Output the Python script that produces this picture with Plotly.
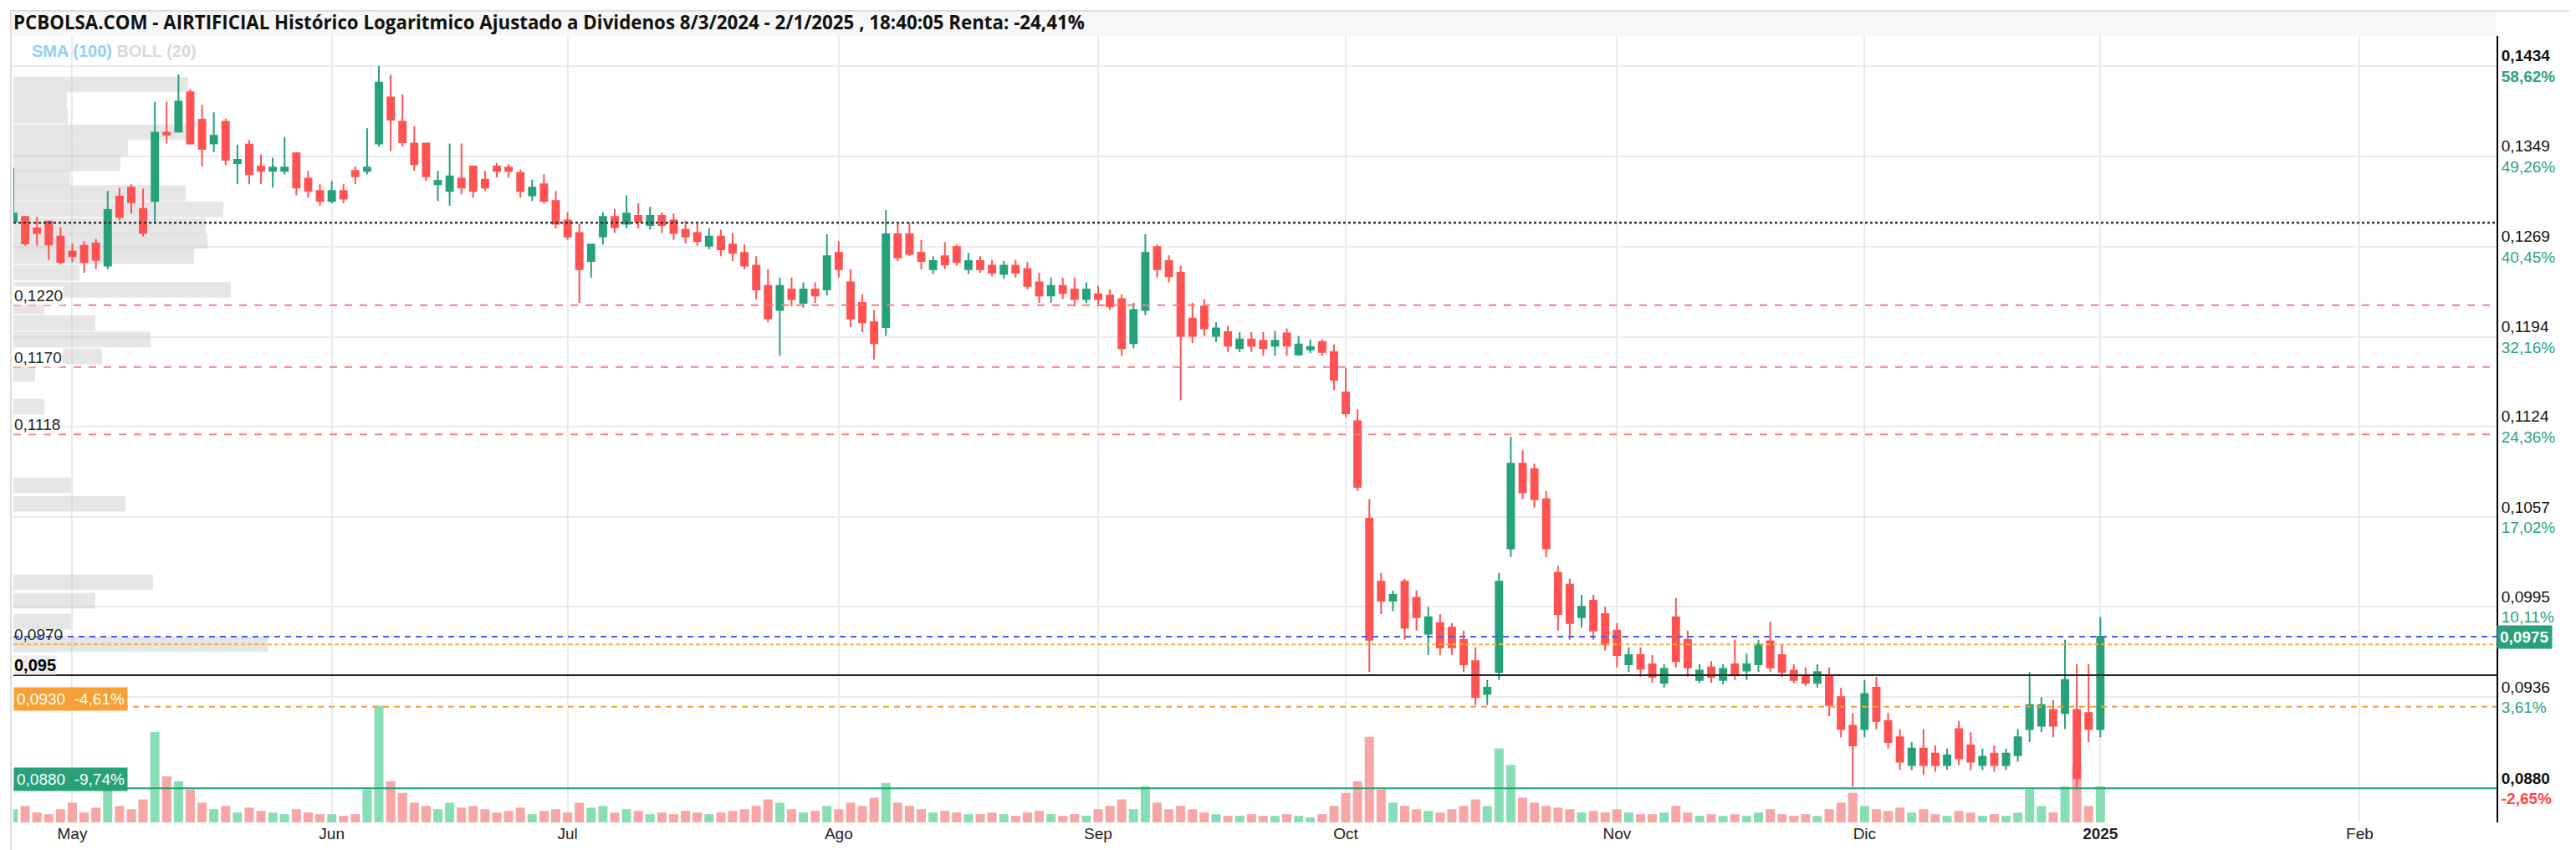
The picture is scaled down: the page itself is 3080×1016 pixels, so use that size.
import math
import plotly.graph_objects as go

# ---------------- data ----------------
# daily sessions, index 0 = 24 Apr 2024 ... index 177 = 2 Jan 2025
opens = [.1291,.1295,.1285,.1291,.1278,.1265,.1270,.1272,.1253,.1313,
         .1321,.1302,.1309,.1371,.1372,.1409,.1383,.1361,.1381,.1343,
         .1360,.1340,.1336,.1336,.1352,.1329,.1318,.1309,.1318,.1336,
         .1336,.1361,.1404,.1381,.1361,.1361,.1324,.1318,.1329,.1340,
         .1328,.1340,.1339,.1334,.1314,.1324,.1309,.1292,.1281,.1257,
         .1278,.1295,.1289,.1296,.1288,.1296,.1292,.1284,.1281,.1270,
         .1278,.1271,.1264,.1253,.1236,.1216,.1233,.1222,.1233,.1233,
         .1264,.1239,.1222,.1206,.1202,.1280,.1280,.1264,.1250,.1261,
         .1269,.1250,.1257,.1253,.1246,.1253,.1250,.1239,.1228,.1236,
         .1233,.1225,.1229,.1228,.1225,.1189,.1216,.1269,.1257,.1247,
         .1209,.1219,.1195,.1198,.1185,.1192,.1191,.1187,.1197,.1180,
         .1184,.1190,.1182,.1150,.1128,.1056,.1012,.0999,.1012,.1001,
         .0977,.0984,.0981,.0973,.0959,.0938,.0952,.1035,.1096,.1092,
         .1070,.1018,.1010,.0988,.0999,.0990,.0979,.0957,.0963,.0957,
         .0945,.0988,.0973,.0947,.0955,.0947,.0957,.0953,.0957,.0972,
         .0963,.0953,.0949,.0945,.0949,.0936,.0918,.0916,.0942,.0921,
         .0911,.0894,.0904,.0901,.0894,.0916,.0906,.0894,.0901,.0894,
         .0900,.0916,.0918,.0928,.0926,.0928,.0926,.0916]
highs = [.1339,.1296,.1295,.1292,.1286,.1272,.1274,.1276,.1318,.1321,
         .1324,.1320,.1400,.1400,.1426,.1412,.1397,.1390,.1384,.1360,
         .1364,.1351,.1348,.1367,.1353,.1336,.1324,.1327,.1324,.1340,
         .1375,.1434,.1426,.1407,.1377,.1361,.1336,.1361,.1361,.1340,
         .1336,.1343,.1342,.1337,.1328,.1333,.1318,.1299,.1289,.1271,
         .1299,.1302,.1314,.1307,.1304,.1299,.1298,.1292,.1289,.1285,
         .1284,.1281,.1271,.1261,.1250,.1243,.1243,.1239,.1239,.1280,
         .1274,.1250,.1229,.1216,.1301,.1290,.1290,.1275,.1261,.1273,
         .1271,.1264,.1261,.1258,.1257,.1258,.1256,.1247,.1243,.1243,
         .1243,.1239,.1236,.1233,.1229,.1222,.1280,.1271,.1262,.1253,
         .1222,.1225,.1206,.1203,.1198,.1198,.1198,.1199,.1201,.1195,
         .1192,.1192,.1188,.1169,.1137,.1070,.1018,.1006,.1014,.1006,
         .0995,.0990,.0984,.0979,.0968,.0947,.1018,.1116,.1106,.1096,
         .1076,.1023,.1014,.1003,.1003,.0995,.0984,.0968,.0968,.0963,
         .0957,.1001,.0979,.0957,.0959,.0957,.0973,.0964,.0973,.0985,
         .0970,.0957,.0955,.0957,.0955,.0942,.0926,.0947,.0949,.0926,
         .0916,.0908,.0916,.0906,.0904,.0921,.0914,.0904,.0906,.0904,
         .0916,.0952,.0936,.0934,.0973,.0957,.0957,.0988]
lows = [.1290,.1270,.1270,.1258,.1254,.1256,.1247,.1250,.1250,.1292,
        .1298,.1278,.1290,.1361,.1371,.1360,.1340,.1353,.1341,.1324,
        .1324,.1324,.1321,.1333,.1314,.1312,.1305,.1307,.1307,.1324,
        .1333,.1358,.1354,.1358,.1336,.1327,.1309,.1305,.1315,.1312,
        .1318,.1330,.1330,.1312,.1309,.1307,.1285,.1275,.1222,.1243,
        .1271,.1281,.1285,.1285,.1284,.1281,.1275,.1272,.1270,.1267,
        .1261,.1257,.1250,.1225,.1206,.1179,.1219,.1218,.1222,.1228,
        .1243,.1202,.1198,.1176,.1195,.1257,.1261,.1250,.1246,.1250,
        .1253,.1246,.1247,.1244,.1242,.1243,.1233,.1222,.1222,.1225,
        .1219,.1222,.1219,.1216,.1179,.1185,.1212,.1243,.1239,.1144,
        .1189,.1195,.1190,.1182,.1182,.1182,.1179,.1179,.1179,.1179,
        .1181,.1179,.1152,.1131,.1076,.0952,.0990,.0992,.0973,.0979,
        .0963,.0963,.0963,.0952,.0931,.0931,.0947,.1029,.1070,.1064,
        .1029,.0979,.0973,.0981,.0973,.0966,.0955,.0952,.0949,.0945,
        .0942,.0955,.0949,.0945,.0945,.0944,.0947,.0947,.0952,.0952,
        .0949,.0945,.0943,.0942,.0924,.0911,.0881,.0911,.0916,.0904,
        .0891,.0891,.0888,.0890,.0891,.0894,.0891,.0891,.0890,.0891,
        .0896,.0908,.0914,.0911,.0916,.0880,.0908,.0911]
closes = [.1298,.1272,.1281,.1271,.1256,.1261,.1256,.1258,.1301,.1295,
          .1308,.1281,.1371,.1369,.1400,.1361,.1356,.1368,.1346,.1346,
          .1333,.1336,.1339,.1339,.1321,.1318,.1309,.1318,.1311,.1331,
          .1339,.1418,.1383,.1362,.1342,.1331,.1327,.1331,.1321,.1318,
          .1321,.1336,.1336,.1318,.1321,.1309,.1289,.1278,.1250,.1271,
          .1295,.1286,.1298,.1291,.1296,.1288,.1281,.1278,.1274,.1278,
          .1267,.1264,.1253,.1233,.1209,.1236,.1225,.1233,.1228,.1261,
          .1250,.1209,.1206,.1189,.1280,.1260,.1263,.1257,.1257,.1254,
          .1256,.1257,.1250,.1247,.1253,.1247,.1236,.1228,.1236,.1230,
          .1225,.1233,.1225,.1219,.1185,.1216,.1264,.1250,.1244,.1195,
          .1195,.1201,.1201,.1187,.1192,.1187,.1185,.1191,.1187,.1188,
          .1186,.1182,.1160,.1134,.1079,.0973,.0999,.1003,.0981,.0988,
          .0988,.0968,.0968,.0957,.0936,.0942,.1012,.1096,.1075,.1070,
          .1035,.0990,.0984,.0995,.0979,.0970,.0963,.0963,.0954,.0949,
          .0954,.0959,.0955,.0953,.0949,.0954,.0951,.0957,.0970,.0955,
          .0952,.0947,.0945,.0952,.0931,.0916,.0906,.0938,.0921,.0908,
          .0896,.0904,.0894,.0894,.0900,.0898,.0896,.0899,.0894,.0901,
          .0911,.0931,.0931,.0918,.0947,.0886,.0916,.0975]
volume_k = [8,10,6,5,8,12,6,9,30,10, 8,14,55,28,25,20,12,8,10,6,
            9,7,6,5,8,6,5,5,4,5, 20,71,25,18,12,10,8,12,9,10,
            8,6,7,9,5,7,8,6,12,9, 10,6,8,7,5,6,5,7,6,5,
            6,7,8,10,14,12,8,6,7,10, 8,12,10,15,24,12,10,8,6,7,
            6,5,5,6,5,4,6,7,5,4, 5,4,8,10,14,8,22,12,8,10,
            8,6,5,4,4,5,4,4,5,4, 3,5,10,18,25,52,20,12,10,8,
            7,6,8,10,14,10,45,35,15,12, 10,9,8,6,7,6,8,6,5,5,
            6,10,6,4,5,4,5,4,6,8, 5,4,5,4,8,12,18,10,8,7,
            9,6,8,5,4,7,6,4,5,4, 6,20,10,6,22,35,10,22]

# month tick positions (session index of first trading day) and labels
month_idx = [5, 27, 47, 70, 92, 113, 136, 157, 177, 199]
month_labels = ["May", "Jun", "Jul", "Ago", "Sep", "Oct", "Nov", "Dic", "<b>2025</b>", "Feb"]

# right axis ticks
axis_prices = [0.1434, 0.1349, 0.1269, 0.1194, 0.1124, 0.1057, 0.0995, 0.0936, 0.0880]
axis_price_text = ["0,1434", "0,1349", "0,1269", "0,1194", "0,1124", "0,1057", "0,0995", "0,0936", "0,0880"]
axis_pct_text = ["58,62%", "49,26%", "40,45%", "32,16%", "24,36%", "17,02%", "10,11%", "3,61%", "-2,65%"]

# volume-by-price profile on the left
profile_price = [0.14163, 0.14015, 0.13866, 0.13713, 0.13567, 0.13429, 0.13297, 0.13162,
                 0.13018, 0.12872, 0.12741, 0.12612, 0.12470, 0.12327, 0.12191, 0.12054,
                 0.11919, 0.11784, 0.11646, 0.11391, 0.10801, 0.10668, 0.10115, 0.09990,
                 0.09850, 0.09701]
profile_volume = [209, 64, 65, 209, 137, 128, 68, 206, 251, 230, 232, 216, 79, 260, 37, 98,
                  164, 106, 26, 37, 69, 134, 167, 98, 69, 304]

# horizontal levels
reference_level = 0.1290
red_levels = [0.1220, 0.1170, 0.1118]
red_level_text = ["0,1220", "0,1170", "0,1118"]
last_price = 0.0975
last_price_text = "0,0975"
level_0970 = 0.0970
level_0950 = 0.095
level_0930 = 0.0930
level_0880 = 0.0880

title_text = ("PCBOLSA.COM - AIRTIFICIAL Histórico Logaritmico Ajustado a Dividenos "
              "8/3/2024 - 2/1/2025 , 18:40:05 Renta: -24,41%")

# ---------------- style ----------------
GREEN = "#26a17a"
RED = "#ff5252"
VOL_GREEN = "#88deb4"
VOL_RED = "#f7a5a5"
PCT_GREEN = "#2ea27a"
PCT_RED = "#ff4444"
GRID = "#ebebeb"
FONT = "Liberation Sans"

W, H = 3080, 1016
ML, MR, MT, MB = 8, 103, 35, 41
PW, PH = W - ML - MR, H - MT - MB
YLO, YHI = -1.0655, -0.8346          # log10 price range
X_RANGE = [0, 210.6]
VOL_TOP = 478.6
PROFILE_RANGE = [0, PW]

idx = list(range(len(opens)))
vol_colors = [VOL_GREEN if c >= o else VOL_RED for o, c in zip(opens, closes)]

fig = go.Figure()

# volume profile (main subplot => drawn first / underneath)
fig.add_trace(go.Bar(
    x=profile_volume, y=[math.log10(p) for p in profile_price], orientation="h",
    width=0.0046, marker=dict(color="rgba(190,190,190,0.38)", line=dict(width=0)),
    xaxis="x", yaxis="y", hoverinfo="skip"))

# volume bars
fig.add_trace(go.Bar(
    x=idx, y=volume_k, width=0.78, marker=dict(color=vol_colors, line=dict(width=0)),
    xaxis="x2", yaxis="y2", hoverinfo="skip"))

# level lines (price subplot)
def level(p, color, dash, width=2):
    fig.add_trace(go.Scatter(x=X_RANGE, y=[p, p], mode="lines",
                             line=dict(color=color, dash=dash, width=width),
                             xaxis="x2", yaxis="y3", hoverinfo="skip"))

level(reference_level, "#333333", "3px,3px", 2.5)
for p in red_levels:
    level(p, "#ff7a7a", "9px,9px", 2)
level(level_0950, "#222222", "solid", 2)
level(level_0930, "#f7a035", "7px,6px", 2)
level(level_0880, GREEN, "solid", 2)
level(level_0970, "#f5b041", "5px,3px", 2)
level(last_price, "#4a5cf0", "7px,6px", 2)

fig.add_trace(go.Candlestick(
    x=idx, open=opens, high=highs, low=lows, close=closes,
    increasing=dict(line=dict(color=GREEN, width=2), fillcolor=GREEN),
    decreasing=dict(line=dict(color=RED, width=2), fillcolor=RED),
    whiskerwidth=0, xaxis="x2", yaxis="y3", hoverinfo="skip"))

# right axis tick text: price above, percentage below
ticktext = []
n = len(axis_prices)
for k, (pt, pc) in enumerate(zip(axis_price_text, axis_pct_text)):
    col = PCT_RED if pc.startswith("-") else PCT_GREEN
    if k == 0 or k == n - 1:
        ticktext.append(f"<b>{pt}</b><br><b><span style='color:{col}'>{pc}</span></b>")
    else:
        ticktext.append(f"{pt}<br><span style='color:{col}'>{pc}</span>")

annotations = []
# title
annotations.append(dict(xref="paper", yref="paper", x=0, y=1, xanchor="left", yanchor="middle",
                        xshift=-2, yshift=17, showarrow=False,
                        text=f"<b>{title_text}</b>",
                        font=dict(family="Open Sans", size=22.3, color="#111")))
# indicators legend
annotations.append(dict(xref="paper", yref="paper", x=20 / PW, y=1, xanchor="left", yanchor="middle",
                        yshift=-18, showarrow=False,
                        text="<b><span style='color:#93cff5'>SMA (100)</span> "
                             "<span style='color:#d9d9d9'>BOLL (20)</span></b>",
                        font=dict(family=FONT, size=20)))
# left level labels
for p, t in zip(red_levels, red_level_text):
    annotations.append(dict(xref="paper", yref="y", x=0, y=math.log10(p), xanchor="left",
                            yanchor="bottom", showarrow=False, text=t, bgcolor="white",
                            borderpad=0, font=dict(family=FONT, size=19, color="#222")))
annotations.append(dict(xref="paper", yref="y", x=0, y=math.log10(level_0970), xanchor="left",
                        yanchor="bottom", showarrow=False, text="0,0970",
                        borderpad=0, font=dict(family=FONT, size=19, color="#222")))
annotations.append(dict(xref="paper", yref="y", x=0, y=math.log10(level_0950), xanchor="left",
                        yanchor="bottom", showarrow=False, text="<b>0,095</b>",
                        bgcolor="#eeeeee", borderpad=0, font=dict(family=FONT, size=20, color="#000")))
annotations.append(dict(xref="paper", yref="y", x=0, y=math.log10(level_0930), xanchor="left",
                        yanchor="middle", yshift=9, showarrow=False, text="0,0930&nbsp;&nbsp;-4,61%",
                        bgcolor="#f7a035", borderpad=3, font=dict(family=FONT, size=19, color="white")))
annotations.append(dict(xref="paper", yref="y", x=0, y=math.log10(level_0880), xanchor="left",
                        yanchor="middle", yshift=11, showarrow=False, text="0,0880&nbsp;&nbsp;-9,74%",
                        bgcolor=GREEN, borderpad=3, font=dict(family=FONT, size=19, color="white")))
# last price tag on the right
annotations.append(dict(xref="paper", yref="y", x=1, y=math.log10(last_price), xanchor="left",
                        yanchor="middle", showarrow=False, text=f"<b>{last_price_text}</b>",
                        bgcolor=GREEN, borderpad=3, font=dict(family=FONT, size=19, color="white")))

shapes = [
    dict(type="rect", xref="paper", yref="paper", x0=-3 / PW, x1=1, y0=1, y1=1 + 30 / PH,
         fillcolor="#f7f7f7", line=dict(width=0), layer="below"),
    dict(type="rect", xref="paper", yref="paper", x0=-3 / PW, x1=(3073 - ML) / PW,
         y0=-36 / PH, y1=1 + 30 / PH, fillcolor="rgba(0,0,0,0)",
         line=dict(color="#dddddd", width=2)),
]

fig.update_layout(
    width=W, height=H, margin=dict(l=ML, r=MR, t=MT, b=MB, pad=0),
    paper_bgcolor="white", plot_bgcolor="white", showlegend=False,
    boxgap=0.2, bargap=0.2,
    annotations=annotations, shapes=shapes,
    xaxis=dict(range=PROFILE_RANGE, visible=False, fixedrange=True),
    yaxis=dict(range=[YLO, YHI], visible=False, fixedrange=True),
    xaxis2=dict(overlaying="x", anchor="y3", range=X_RANGE, tickmode="array",
                tickvals=month_idx, ticktext=month_labels, showgrid=True, gridcolor=GRID,
                gridwidth=2, zeroline=False, showline=False, ticks="",
                tickfont=dict(family=FONT, size=19, color="#222"),
                rangeslider=dict(visible=False)),
    yaxis2=dict(overlaying="y", anchor="x2", range=[0, VOL_TOP], visible=False),
    yaxis3=dict(overlaying="y", anchor="x2", type="log", range=[YLO, YHI], side="right",
                tickmode="array", tickvals=axis_prices, ticktext=ticktext,
                showgrid=True, gridcolor=GRID, gridwidth=2, zeroline=False,
                showline=True, linecolor="black", linewidth=2, ticks="",
                tickfont=dict(family=FONT, size=19, color="#111")),
)

fig.write_html("out.html")
